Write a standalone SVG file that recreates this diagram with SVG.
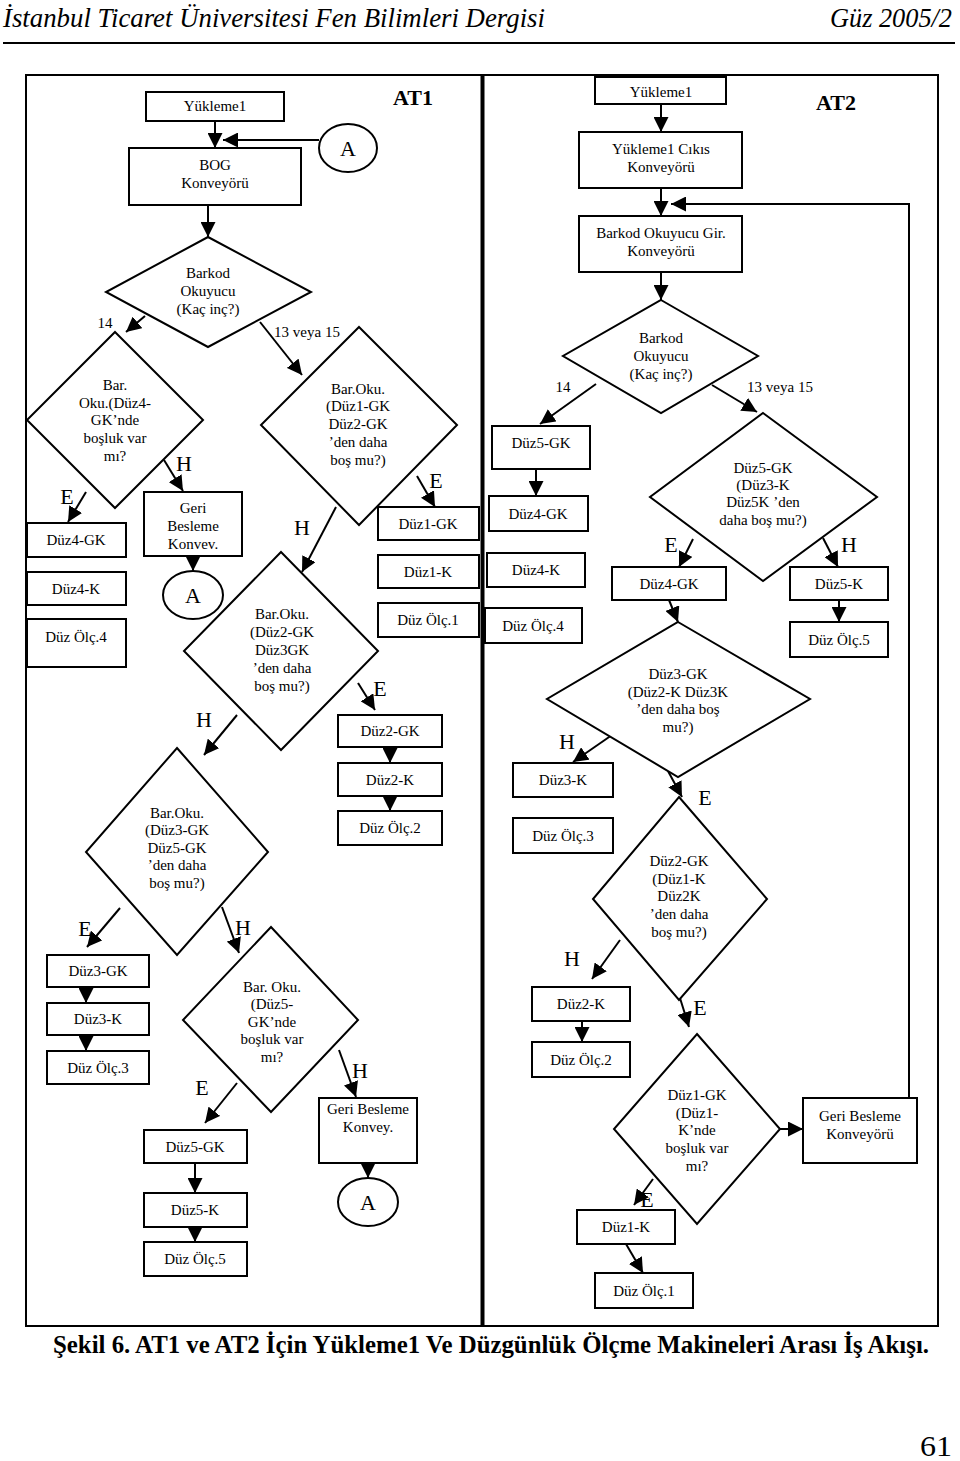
<svg xmlns="http://www.w3.org/2000/svg" width="960" height="1461" viewBox="0 0 960 1461">
<style>
.b{fill:#fff;stroke:#000;stroke-width:2}
.f{fill:none;stroke:#000;stroke-width:2}
.t{font-family:"Liberation Serif",serif;font-size:15px;text-anchor:middle;fill:#000}
.l{font-family:"Liberation Serif",serif;font-size:22px;text-anchor:middle;fill:#000}
.a{font-family:"Liberation Serif",serif;font-size:22px;font-weight:bold;text-anchor:middle;fill:#000}
.c line,.c polyline{fill:none;stroke:#000;stroke-width:2;marker-end:url(#ah)}
</style>
<defs>
<marker id="ah" viewBox="0 0 10 10" refX="10" refY="5" markerWidth="15" markerHeight="15" markerUnits="userSpaceOnUse" orient="auto"><path d="M0,0 L10,5 L0,10 z" fill="#000"/></marker>
</defs>
<rect width="960" height="1461" fill="#fff"/>
<g id="header">
<text x="3" y="27" font-family="Liberation Serif, serif" font-style="italic" font-size="28" textLength="542" lengthAdjust="spacingAndGlyphs">İstanbul Ticaret Üniversitesi Fen Bilimleri Dergisi</text>
<text x="830" y="27" font-family="Liberation Serif, serif" font-style="italic" font-size="28" textLength="122" lengthAdjust="spacingAndGlyphs">Güz 2005/2</text>
<line x1="3" y1="43" x2="955" y2="43" stroke="#000" stroke-width="2"/>
</g>
<g id="frames">
<rect x="26" y="75" width="456" height="1251" class="f"/>
<rect x="482" y="75" width="456" height="1251" class="f"/>
<line x1="482.5" y1="75" x2="482.5" y2="1326" stroke="#000" stroke-width="4"/>
<text x="413" y="105" class="a">AT1</text>
<text x="836" y="110" class="a">AT2</text>
</g>
<g id="connectors" class="c">
<line x1="215" y1="121" x2="215" y2="148"/>
<line x1="319" y1="140" x2="223" y2="140"/>
<line x1="208" y1="205" x2="208" y2="237"/>
<line x1="145" y1="316" x2="126" y2="332"/>
<line x1="260" y1="322" x2="302" y2="375"/>
<line x1="86" y1="492" x2="68" y2="522"/>
<line x1="164" y1="460" x2="183" y2="491"/>
<line x1="193" y1="556" x2="193" y2="571"/>
<line x1="417" y1="476" x2="435" y2="507"/>
<line x1="336" y1="507" x2="302" y2="572"/>
<line x1="358" y1="683" x2="375" y2="710"/>
<line x1="390" y1="747" x2="390" y2="763"/>
<line x1="390" y1="796" x2="390" y2="811"/>
<line x1="237" y1="715" x2="204" y2="755"/>
<line x1="120" y1="908" x2="87" y2="947"/>
<line x1="86" y1="987" x2="86" y2="1003"/>
<line x1="86" y1="1035" x2="86" y2="1051"/>
<line x1="222" y1="907" x2="239" y2="953"/>
<line x1="237" y1="1083" x2="205" y2="1123"/>
<line x1="195" y1="1163" x2="195" y2="1193"/>
<line x1="195" y1="1227" x2="195" y2="1242"/>
<line x1="339" y1="1050" x2="356" y2="1097"/>
<line x1="368" y1="1163" x2="368" y2="1178"/>
<line x1="661" y1="104" x2="661" y2="132"/>
<line x1="661" y1="188" x2="661" y2="216"/>
<polyline points="909,1098 909,204 671,204"/>
<line x1="661" y1="272" x2="661" y2="300"/>
<line x1="596" y1="384" x2="540" y2="424"/>
<line x1="712" y1="385" x2="757" y2="412"/>
<line x1="536" y1="469" x2="536" y2="496"/>
<line x1="693" y1="539" x2="679" y2="567"/>
<line x1="823" y1="538" x2="838" y2="567"/>
<line x1="839" y1="600" x2="839" y2="622"/>
<line x1="669" y1="600" x2="678" y2="622"/>
<line x1="612" y1="735" x2="573" y2="762"/>
<line x1="668" y1="771" x2="682" y2="797"/>
<line x1="620" y1="940" x2="592" y2="979"/>
<line x1="582" y1="1021" x2="582" y2="1042"/>
<line x1="680" y1="998" x2="689" y2="1027"/>
<line x1="780" y1="1129" x2="803" y2="1129"/>
<line x1="653" y1="1179" x2="634" y2="1205"/>
<line x1="626" y1="1244" x2="643" y2="1273"/>
</g>
<g id="labels">
<text x="105" y="328" class="t">14</text>
<text x="307" y="337" class="t">13 veya 15</text>
<text x="67" y="504" class="l">E</text>
<text x="184" y="471" class="l">H</text>
<text x="436" y="488" class="l">E</text>
<text x="302" y="535" class="l">H</text>
<text x="380" y="696" class="l">E</text>
<text x="204" y="727" class="l">H</text>
<text x="85" y="936" class="l">E</text>
<text x="243" y="935" class="l">H</text>
<text x="202" y="1095" class="l">E</text>
<text x="360" y="1078" class="l">H</text>
<text x="563" y="392" class="t">14</text>
<text x="780" y="392" class="t">13 veya 15</text>
<text x="671" y="552" class="l">E</text>
<text x="849" y="552" class="l">H</text>
<text x="567" y="749" class="l">H</text>
<text x="705" y="805" class="l">E</text>
<text x="572" y="966" class="l">H</text>
<text x="700" y="1015" class="l">E</text>
<text x="647" y="1207" class="l">E</text>
</g>
<g id="n1"><rect x="146" y="92" width="138" height="29" class="b"/><text x="215" y="111" class="t">Yükleme1</text></g>
<g id="n2"><rect x="129" y="148" width="172" height="57" class="b"/><text x="215" y="170" class="t">BOG</text><text x="215" y="188" class="t">Konveyörü</text></g>
<g id="n3"><ellipse cx="348" cy="148" rx="29" ry="24" class="b"/><text x="348" y="156" class="l">A</text></g>
<g id="n4"><polygon points="208,237 311,292 208,347 106,292" class="b"/><text x="208" y="278" class="t">Barkod</text><text x="208" y="296" class="t">Okuyucu</text><text x="208" y="314" class="t">(Kaç inç?)</text></g>
<g id="n5"><polygon points="115,332 203,420 115,508 27,420" class="b"/><text x="115" y="390" class="t">Bar.</text><text x="115" y="408" class="t">Oku.(Düz4-</text><text x="115" y="425" class="t">GK’nde</text><text x="115" y="443" class="t">boşluk var</text><text x="115" y="461" class="t">mı?</text></g>
<g id="n6"><rect x="27" y="523" width="99" height="34" class="b"/><text x="76" y="545" class="t">Düz4-GK</text></g>
<g id="n7"><rect x="27" y="572" width="99" height="33" class="b"/><text x="76" y="594" class="t">Düz4-K</text></g>
<g id="n8"><rect x="27" y="619" width="99" height="48" class="b"/><text x="76" y="642" class="t">Düz Ölç.4</text></g>
<g id="n9"><rect x="144" y="492" width="98" height="64" class="b"/><text x="193" y="513" class="t">Geri</text><text x="193" y="531" class="t">Besleme</text><text x="193" y="549" class="t">Konvev.</text></g>
<g id="n10"><ellipse cx="193" cy="595" rx="30" ry="24" class="b"/><text x="193" y="603" class="l">A</text></g>
<g id="n11"><polygon points="359,327 457,425 359,525 261,425" class="b"/><text x="358" y="394" class="t">Bar.Oku.</text><text x="358" y="411" class="t">(Düz1-GK</text><text x="358" y="429" class="t">Düz2-GK</text><text x="358" y="447" class="t">’den daha</text><text x="358" y="465" class="t">boş mu?)</text></g>
<g id="n12"><rect x="378" y="507" width="101" height="33" class="b"/><text x="428" y="529" class="t">Düz1-GK</text></g>
<g id="n13"><rect x="378" y="555" width="101" height="33" class="b"/><text x="428" y="577" class="t">Düz1-K</text></g>
<g id="n14"><rect x="378" y="603" width="101" height="34" class="b"/><text x="428" y="625" class="t">Düz Ölç.1</text></g>
<g id="n15"><polygon points="281,552 378,651 281,750 184,651" class="b"/><text x="282" y="619" class="t">Bar.Oku.</text><text x="282" y="637" class="t">(Düz2-GK</text><text x="282" y="655" class="t">Düz3GK</text><text x="282" y="673" class="t">’den daha</text><text x="282" y="691" class="t">boş mu?)</text></g>
<g id="n16"><rect x="338" y="715" width="104" height="32" class="b"/><text x="390" y="736" class="t">Düz2-GK</text></g>
<g id="n17"><rect x="338" y="763" width="104" height="33" class="b"/><text x="390" y="785" class="t">Düz2-K</text></g>
<g id="n18"><rect x="338" y="811" width="104" height="34" class="b"/><text x="390" y="833" class="t">Düz Ölç.2</text></g>
<g id="n19"><polygon points="177,748 268,852 177,955 86,852" class="b"/><text x="177" y="818" class="t">Bar.Oku.</text><text x="177" y="835" class="t">(Düz3-GK</text><text x="177" y="853" class="t">Düz5-GK</text><text x="177" y="870" class="t">’den daha</text><text x="177" y="888" class="t">boş mu?)</text></g>
<g id="n20"><rect x="47" y="955" width="102" height="32" class="b"/><text x="98" y="976" class="t">Düz3-GK</text></g>
<g id="n21"><rect x="47" y="1003" width="102" height="32" class="b"/><text x="98" y="1024" class="t">Düz3-K</text></g>
<g id="n22"><rect x="47" y="1051" width="102" height="33" class="b"/><text x="98" y="1073" class="t">Düz Ölç.3</text></g>
<g id="n23"><polygon points="271,927 358,1020 271,1112 183,1020" class="b"/><text x="272" y="992" class="t">Bar. Oku.</text><text x="272" y="1009" class="t">(Düz5-</text><text x="272" y="1027" class="t">GK’nde</text><text x="272" y="1044" class="t">boşluk var</text><text x="272" y="1062" class="t">mı?</text></g>
<g id="n24"><rect x="144" y="1130" width="103" height="33" class="b"/><text x="195" y="1152" class="t">Düz5-GK</text></g>
<g id="n25"><rect x="144" y="1193" width="103" height="34" class="b"/><text x="195" y="1215" class="t">Düz5-K</text></g>
<g id="n26"><rect x="144" y="1242" width="103" height="34" class="b"/><text x="195" y="1264" class="t">Düz Ölç.5</text></g>
<g id="n27"><rect x="319" y="1098" width="98" height="65" class="b"/><text x="368" y="1114" class="t">Geri Besleme</text><text x="368" y="1132" class="t">Konvey.</text></g>
<g id="n28"><ellipse cx="368" cy="1202" rx="30" ry="24" class="b"/><text x="368" y="1210" class="l">A</text></g>
<g id="m1"><rect x="595" y="77" width="131" height="27" class="b"/><text x="661" y="97" class="t">Yükleme1</text></g>
<g id="m2"><rect x="579" y="132" width="163" height="56" class="b"/><text x="661" y="154" class="t">Yükleme1 Cıkıs</text><text x="661" y="172" class="t">Konveyörü</text></g>
<g id="m3"><rect x="579" y="216" width="163" height="56" class="b"/><text x="661" y="238" class="t">Barkod Okuyucu Gir.</text><text x="661" y="256" class="t">Konveyörü</text></g>
<g id="m4"><polygon points="661,300 758,356 661,413 563,356" class="b"/><text x="661" y="343" class="t">Barkod</text><text x="661" y="361" class="t">Okuyucu</text><text x="661" y="379" class="t">(Kaç inç?)</text></g>
<g id="m5"><rect x="492" y="426" width="98" height="43" class="b"/><text x="541" y="448" class="t">Düz5-GK</text></g>
<g id="m6"><rect x="489" y="496" width="99" height="35" class="b"/><text x="538" y="519" class="t">Düz4-GK</text></g>
<g id="m7"><rect x="487" y="553" width="98" height="34" class="b"/><text x="536" y="575" class="t">Düz4-K</text></g>
<g id="m8"><rect x="485" y="608" width="97" height="35" class="b"/><text x="533" y="631" class="t">Düz Ölç.4</text></g>
<g id="m9"><polygon points="763,413 877,497 763,581 650,497" class="b"/><text x="763" y="473" class="t">Düz5-GK</text><text x="763" y="490" class="t">(Düz3-K</text><text x="763" y="507" class="t">Düz5K ’den</text><text x="763" y="525" class="t">daha boş mu?)</text></g>
<g id="m10"><rect x="612" y="567" width="114" height="33" class="b"/><text x="669" y="589" class="t">Düz4-GK</text></g>
<g id="m11"><rect x="790" y="567" width="98" height="33" class="b"/><text x="839" y="589" class="t">Düz5-K</text></g>
<g id="m12"><rect x="790" y="622" width="98" height="35" class="b"/><text x="839" y="645" class="t">Düz Ölç.5</text></g>
<g id="m13"><polygon points="678,622 810,699 678,777 547,699" class="b"/><text x="678" y="679" class="t">Düz3-GK</text><text x="678" y="697" class="t">(Düz2-K Düz3K</text><text x="678" y="714" class="t">’den daha boş</text><text x="678" y="732" class="t">mu?)</text></g>
<g id="m14"><rect x="513" y="763" width="100" height="34" class="b"/><text x="563" y="785" class="t">Düz3-K</text></g>
<g id="m15"><rect x="513" y="818" width="100" height="35" class="b"/><text x="563" y="841" class="t">Düz Ölç.3</text></g>
<g id="m16"><polygon points="679,797 767,899 679,1000 593,899" class="b"/><text x="679" y="866" class="t">Düz2-GK</text><text x="679" y="884" class="t">(Düz1-K</text><text x="679" y="901" class="t">Düz2K</text><text x="679" y="919" class="t">’den daha</text><text x="679" y="937" class="t">boş mu?)</text></g>
<g id="m17"><rect x="532" y="987" width="98" height="34" class="b"/><text x="581" y="1009" class="t">Düz2-K</text></g>
<g id="m18"><rect x="532" y="1042" width="98" height="35" class="b"/><text x="581" y="1065" class="t">Düz Ölç.2</text></g>
<g id="m19"><polygon points="697,1034 780,1129 697,1224 614,1129" class="b"/><text x="697" y="1100" class="t">Düz1-GK</text><text x="697" y="1118" class="t">(Düz1-</text><text x="697" y="1135" class="t">K’nde</text><text x="697" y="1153" class="t">boşluk var</text><text x="697" y="1171" class="t">mı?</text></g>
<g id="m20"><rect x="803" y="1098" width="114" height="65" class="b"/><text x="860" y="1121" class="t">Geri Besleme</text><text x="860" y="1139" class="t">Konveyörü</text></g>
<g id="m21"><rect x="577" y="1210" width="98" height="34" class="b"/><text x="626" y="1232" class="t">Düz1-K</text></g>
<g id="m22"><rect x="595" y="1273" width="98" height="35" class="b"/><text x="644" y="1296" class="t">Düz Ölç.1</text></g>
<g id="caption">
<text x="491" y="1353" font-family="Liberation Serif, serif" font-weight="bold" font-size="25" text-anchor="middle" textLength="876" lengthAdjust="spacingAndGlyphs">Şekil 6. AT1 ve AT2 İçin Yükleme1 Ve Düzgünlük Ölçme Makineleri Arası İş Akışı.</text>
<text x="952" y="1456" font-family="Liberation Serif, serif" font-size="30" text-anchor="end" textLength="32" lengthAdjust="spacingAndGlyphs">61</text>
</g>
</svg>
